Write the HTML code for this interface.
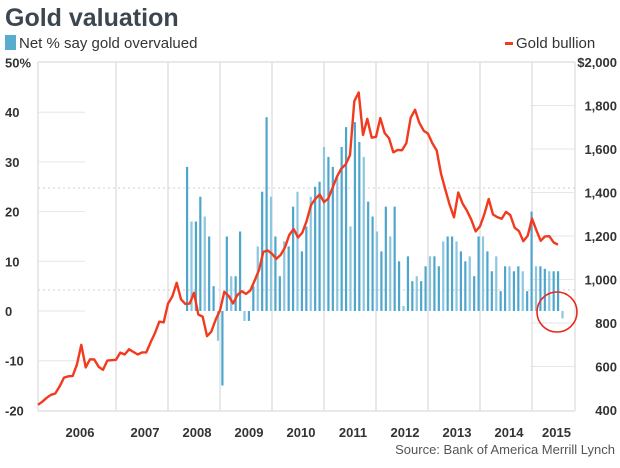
<!DOCTYPE html>
<html><head><meta charset="utf-8"><style>
body{margin:0;background:#fff;width:620px;height:463px;overflow:hidden;font-family:"Liberation Sans Narrow","Liberation Sans",sans-serif;}
svg text{font-family:"Liberation Sans Narrow","Liberation Sans",sans-serif;}
</style></head><body>
<svg id="chart" width="620" height="463" viewBox="0 0 620 463" xmlns="http://www.w3.org/2000/svg">
<text x="5" y="26" font-size="25" font-weight="bold" fill="#3b4650">Gold valuation</text>
<g>
<rect x="5" y="35" width="11" height="15" fill="#5aaccf"/>
<text x="19" y="48" font-size="15" fill="#333">Net % say gold overvalued</text>
</g>
<g>
<rect x="505" y="42" width="8" height="3" fill="#f23a1e"/>
<text x="516" y="48" font-size="15" fill="#333">Gold bullion</text>
</g>
<g id="grid"></g>
<g id="bars"></g>
<path id="goldline" fill="none" stroke="#f23a1e" stroke-width="2.4" stroke-linejoin="round"/>
<circle cx="557" cy="312" r="20" fill="none" stroke="#e8281c" stroke-width="1.6"/>
<g id="axes"></g>
<text x="615" y="454" font-size="13" fill="#555" text-anchor="end">Source: Bank of America Merrill Lynch</text>
</svg>
<script>
const leftTicks=[50,40,30,20,10,0,-10,-20];
const leftTickLabels=["50%","40","30","20","10","0","-10","-20"];
const rightTicks=[2000,1800,1600,1400,1200,1000,800,600,400];
const rightTickLabels=["$2,000","1,800","1,600","1,400","1,200","1,000","800","600","400"];
const years=[2006,2007,2008,2009,2010,2011,2012,2013,2014,2015];
const goldStart=2005.5;
const gold=[424,438,456,470,476,509,
549,555,557,610,700,596,633,632,598,585,627,629,
631,664,655,679,667,655,665,665,712,754,806,803,
889,922,985,909,888,889,939,839,829,740,760,816,
858,943,924,890,928,946,934,949,996,1043,1127,1134,
1118,1095,1113,1148,1205,1232,1193,1215,1270,1342,1370,1391,
1356,1372,1424,1473,1510,1529,1572,1820,1860,1665,1739,1652,
1656,1742,1673,1650,1585,1596,1594,1626,1744,1780,1721,1684,
1671,1627,1593,1487,1414,1343,1286,1400,1348,1316,1275,1221,
1244,1300,1370,1299,1287,1279,1311,1296,1238,1222,1176,1201,
1280,1227,1178,1198,1199,1170,1160];
const surveyStart=2008.365;
const survey=[29,18,18,23,19,15,5,-6,-15,15,7,7,16,-2,-2,5,13,24,39,23,15,7,14,13,21,24,12,17,23,25,26,33,31,29,27,33,37,17,38,34,31,22,19,16,12,21,15,21,10,1,11,6,7,6,9,11,11,9,14,15,15,14,12,10,11,7,15,15,12,8,11,4,9,9,8,9,8,4,20,9,9,8.5,8,8,8,-1.5];
const X0=38,X1=575,YT=62,YB=411;
function x(t){return 116+(t-2007)*52;}
function yL(v){return 311-v*4.97;}
function yR(v){return 62+(2000-v)*0.2175;}
const NS="http://www.w3.org/2000/svg";
function mk(tag,attrs,parent){const e=document.createElementNS(NS,tag);for(const k in attrs)e.setAttribute(k,attrs[k]);parent.appendChild(e);return e;}
const grid=document.getElementById('grid'),axes=document.getElementById('axes'),bars=document.getElementById('bars');
const vl=[X0];for(let yr=2007;yr<=2015;yr++)vl.push(x(yr));vl.push(X1);
vl.forEach(v=>{const l=mk('line',{x1:v,x2:v,y1:YT,y2:YB,stroke:'#e2e2e2','stroke-width':1.5},grid);

});
const tl=mk('line',{x1:X0,x2:X1,y1:YT,y2:YT,stroke:'#e2e2e2','stroke-width':1.5},grid);


const bl=mk('line',{x1:X0,x2:X1,y1:YB,y2:YB,stroke:'#e2e2e2','stroke-width':1.5},grid);


[188,290].forEach(v=>{const l=mk('line',{x1:X0,x2:X1,y1:v,y2:v,stroke:'#cfcfcf','stroke-width':1,'stroke-dasharray':'2,3'},grid);

});
leftTicks.forEach((v,i)=>{if(i>0&&i<leftTicks.length-1){const l=mk('line',{x1:X0,x2:85,y1:yL(v),y2:yL(v),stroke:'#e6e6e6','stroke-width':1},grid);

}
const t=mk('text',{x:5,y:yL(v)+5,'font-size':13,'font-weight':'bold',fill:'#333'},axes);t.textContent=leftTickLabels[i];

});
rightTicks.forEach((v,i)=>{if(i>0&&i<rightTicks.length-1){const l=mk('line',{x1:530,x2:X1,y1:yR(v),y2:yR(v),stroke:'#e6e6e6','stroke-width':1},grid);

}
const t=mk('text',{x:617,y:yR(v)+5,'font-size':13,'font-weight':'bold',fill:'#333','text-anchor':'end'},axes);t.textContent=rightTickLabels[i];

});
years.forEach(yr=>{const a=yr===2006?X0:x(yr),b=yr===2015?X1:x(yr+1);
const t=mk('text',{x:(a+b)/2+3,y:437,'font-size':13,'font-weight':'bold',fill:'#333','text-anchor':'middle'},axes);t.textContent=yr;

});
const step=(558-187)/84/52;
survey.forEach((v,i)=>{const cx=x(surveyStart+i*step);const y0=yL(0),y1=yL(v);
const r=mk('rect',{x:cx-1,y:Math.min(y0,y1),width:2.2,height:Math.max(1,Math.abs(y1-y0)),fill:(i%3===1?'#8cc6df':'#4fa6cc')},bars);

});
document.getElementById('goldline').setAttribute('d',gold.map((v,i)=>(i?'L':'M')+x(goldStart+i/12).toFixed(1)+','+yR(v).toFixed(1)).join(''));
</script>
</body></html>
